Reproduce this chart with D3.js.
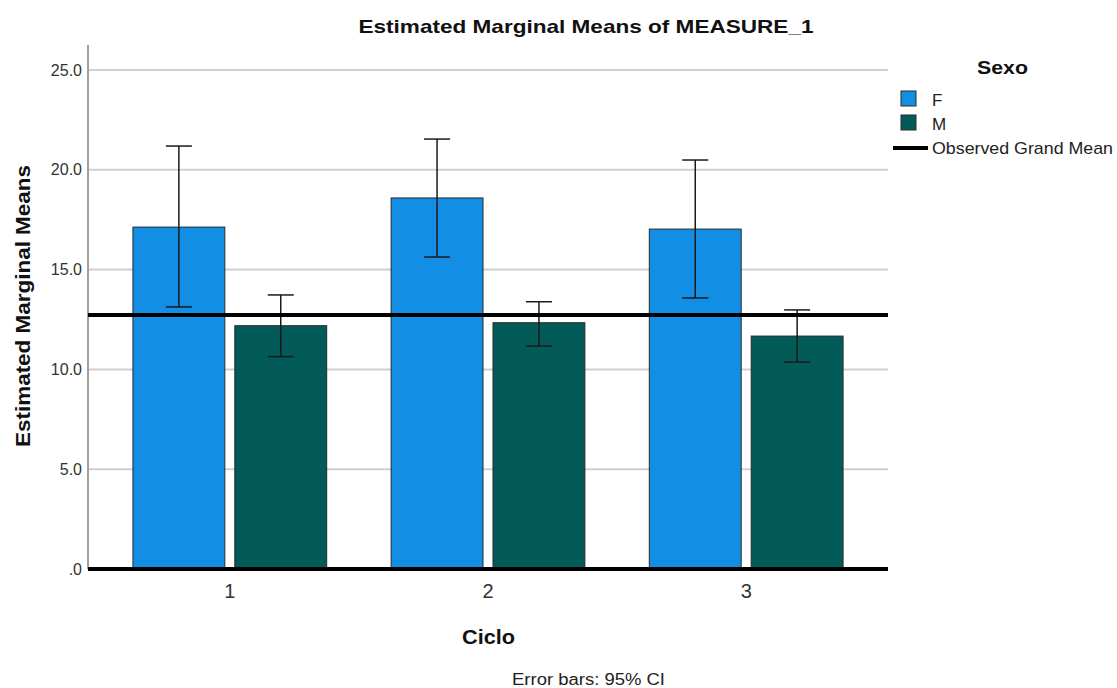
<!DOCTYPE html>
<html>
<head>
<meta charset="utf-8">
<script src="https://cdn.jsdelivr.net/npm/d3@7"></script>
<style>
  body { margin: 0; background: #fff; }
  svg { display: block; }
  text { font-family: "Liberation Sans", Arial, sans-serif; }
</style>
</head>
<body>
<svg id="chart" width="1117" height="688"></svg>
<script>
const categories = ["1", "2", "3"];
const groups = ["F", "M"];
const meanF = [17.13, 18.59, 17.03];
const meanM = [12.19, 12.34, 11.67];
const lowerF = [13.13, 15.63, 13.58];
const upperF = [21.19, 21.54, 20.49];
const lowerM = [10.64, 11.17, 10.37];
const upperM = [13.73, 13.39, 12.98];
const grandMean = 12.73;
const yTicks = [0, 5, 10, 15, 20, 25];
const colors = { F: "#128fe5", M: "#025b58" };

const data = categories.map((c, i) => ({
  cat: c,
  vals: [
    { g: "F", mean: meanF[i], lo: lowerF[i], hi: upperF[i] },
    { g: "M", mean: meanM[i], lo: lowerM[i], hi: upperM[i] }
  ]
}));

const svg = d3.select("#chart");
const pLeft = 88, pRight = 888, pTop = 45, pBottom = 569;

const y = d3.scaleLinear().domain([0, 25]).range([pBottom, pBottom - 25 * 19.96]);
const x0 = d3.scaleBand().domain(categories).range([pLeft, pRight]).paddingInner(0.2495).paddingOuter(0.174);
const x1 = d3.scaleBand().domain(groups).range([0, x0.bandwidth()]).paddingInner(0.098);

// gridlines
svg.append("g").selectAll("line").data(yTicks.filter(d => d > 0)).join("line")
  .attr("x1", pLeft).attr("x2", pRight)
  .attr("y1", d => y(d)).attr("y2", d => y(d))
  .attr("stroke", "#cfcfcf").attr("stroke-width", 2);

// left axis line
svg.append("line").attr("x1", pLeft).attr("x2", pLeft).attr("y1", pTop).attr("y2", pBottom)
  .attr("stroke", "#a0a0a0").attr("stroke-width", 2);

// y tick labels
svg.append("g").selectAll("text").data(yTicks).join("text")
  .attr("x", pLeft - 6).attr("y", d => y(d)).attr("dy", "0.35em")
  .attr("text-anchor", "end").attr("font-size", 16).attr("fill", "#333")
  .text(d => d === 0 ? ".0" : d3.format(".1f")(d));

// bars
const grp = svg.append("g").selectAll("g").data(data).join("g")
  .attr("transform", d => `translate(${x0(d.cat)},0)`);
grp.selectAll("rect").data(d => d.vals).join("rect")
  .attr("x", d => x1(d.g)).attr("width", x1.bandwidth())
  .attr("y", d => y(d.mean)).attr("height", d => y(0) - y(d.mean))
  .attr("fill", d => colors[d.g]).attr("stroke", "#2a2a2a").attr("stroke-width", 1);

// grand mean line
svg.append("line").attr("x1", pLeft).attr("x2", pRight)
  .attr("y1", y(grandMean)).attr("y2", y(grandMean))
  .attr("stroke", "#000").attr("stroke-width", 4);

// error bars
const eb = grp.selectAll("g.eb").data(d => d.vals).join("g").attr("class", "eb")
  .attr("stroke", "#1a1a1a").attr("stroke-width", 1.5);
eb.append("line")
  .attr("x1", d => x1(d.g) + x1.bandwidth() / 2).attr("x2", d => x1(d.g) + x1.bandwidth() / 2)
  .attr("y1", d => y(d.hi)).attr("y2", d => y(d.lo));
eb.append("line")
  .attr("x1", d => x1(d.g) + x1.bandwidth() / 2 - 13).attr("x2", d => x1(d.g) + x1.bandwidth() / 2 + 13)
  .attr("y1", d => y(d.hi)).attr("y2", d => y(d.hi));
eb.append("line")
  .attr("x1", d => x1(d.g) + x1.bandwidth() / 2 - 13).attr("x2", d => x1(d.g) + x1.bandwidth() / 2 + 13)
  .attr("y1", d => y(d.lo)).attr("y2", d => y(d.lo));

// bottom axis
svg.append("line").attr("x1", pLeft).attr("x2", pRight).attr("y1", pBottom).attr("y2", pBottom)
  .attr("stroke", "#000").attr("stroke-width", 4);

// x tick labels
svg.append("g").selectAll("text").data(categories).join("text")
  .attr("x", d => x0(d) + x0.bandwidth() / 2).attr("y", 598)
  .attr("text-anchor", "middle").attr("font-size", 20).attr("fill", "#333")
  .text(d => d);

// titles
svg.append("text").attr("x", 586).attr("y", 33).attr("text-anchor", "middle")
  .attr("font-size", 19).attr("font-weight", "bold").attr("fill", "#111")
  .attr("textLength", 455).attr("lengthAdjust", "spacingAndGlyphs")
  .text("Estimated Marginal Means of MEASURE_1");
svg.append("text").attr("transform", "translate(30,306) rotate(-90)").attr("text-anchor", "middle")
  .attr("font-size", 20).attr("font-weight", "bold").attr("fill", "#111")
  .attr("textLength", 282).attr("lengthAdjust", "spacingAndGlyphs")
  .text("Estimated Marginal Means");
svg.append("text").attr("x", 488.5).attr("y", 644).attr("text-anchor", "middle")
  .attr("font-size", 20).attr("font-weight", "bold").attr("fill", "#111")
  .attr("textLength", 53).attr("lengthAdjust", "spacingAndGlyphs")
  .text("Ciclo");
svg.append("text").attr("x", 588.5).attr("y", 685).attr("text-anchor", "middle")
  .attr("font-size", 16).attr("fill", "#222")
  .attr("textLength", 153).attr("lengthAdjust", "spacingAndGlyphs")
  .text("Error bars: 95% CI");

// legend
const lg = svg.append("g");
lg.append("text").attr("x", 1002.5).attr("y", 74).attr("text-anchor", "middle")
  .attr("font-size", 19).attr("font-weight", "bold").attr("fill", "#111")
  .attr("textLength", 51).attr("lengthAdjust", "spacingAndGlyphs").text("Sexo");
groups.forEach((g, i) => {
  lg.append("rect").attr("x", 901).attr("y", 91 + i * 24).attr("width", 15).attr("height", 15)
    .attr("fill", colors[g]).attr("stroke", "#2a2a2a").attr("stroke-width", 1);
  lg.append("text").attr("x", 932).attr("y", 106 + i * 24).attr("font-size", 17).attr("fill", "#222").text(g);
});
lg.append("line").attr("x1", 893).attr("x2", 928).attr("y1", 148).attr("y2", 148)
  .attr("stroke", "#000").attr("stroke-width", 4);
lg.append("text").attr("x", 932).attr("y", 154).attr("font-size", 17).attr("fill", "#222")
  .attr("textLength", 181).attr("lengthAdjust", "spacingAndGlyphs")
  .text("Observed Grand Mean");
</script>
</body>
</html>
